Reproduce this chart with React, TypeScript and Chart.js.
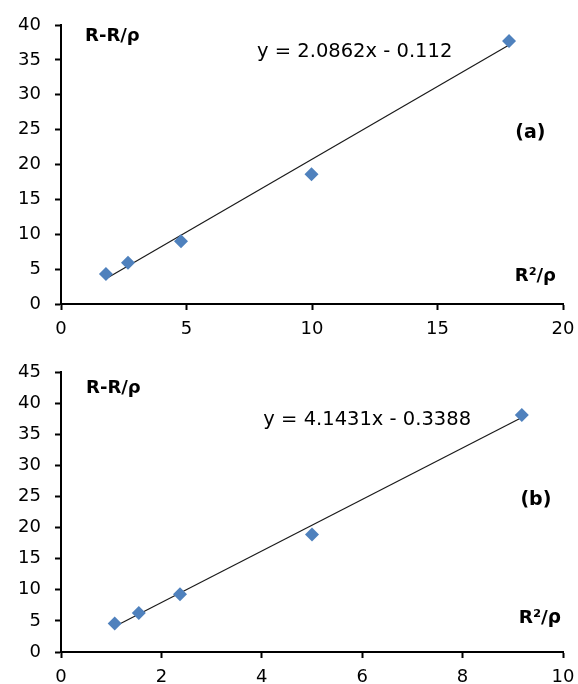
import React, { useEffect, useRef } from "react";
import { Chart, registerables } from "chart.js";

Chart.register(...registerables);

// Panel (a)
const xA = [1.79, 2.67, 4.78, 9.98, 17.85];
const yA = [4.3, 5.9, 9.0, 18.6, 37.7];
const trendXA = [1.79, 17.85];
const trendYA = [3.62, 37.13];
const xTicksA = { min: 0, max: 20, step: 5 };
const yTicksA = { min: 0, max: 40, step: 5 };

// Panel (b)
const xB = [1.07, 1.55, 2.37, 5.0, 9.18];
const yB = [4.57, 6.28, 9.29, 18.9, 38.07];
const trendXB = [1.07, 9.18];
const trendYB = [4.09, 37.7];
const xTicksB = { min: 0, max: 10, step: 2 };
const yTicksB = { min: 0, max: 45, step: 5 };

const FONT = "'DejaVu Sans', 'Liberation Sans', Arial, sans-serif";

const notesA = [
  { text: "R-R/ρ", x: 0.96, y: 38.4, align: "left", bold: true, size: 18 },
  { text: "y = 2.0862x - 0.112", x: 11.7, y: 36.1, align: "center", bold: false, size: 19.5 },
  { text: "(a)", x: 18.7, y: 24.5, align: "center", bold: true, size: 19 },
  { text: "R²/ρ", x: 18.9, y: 3.9, align: "center", bold: true, size: 18 },
];
const notesB = [
  { text: "R-R/ρ", x: 0.5, y: 42.3, align: "left", bold: true, size: 18 },
  { text: "y = 4.1431x - 0.3388", x: 6.1, y: 37.3, align: "center", bold: false, size: 19.5 },
  { text: "(b)", x: 9.46, y: 24.4, align: "center", bold: true, size: 19 },
  { text: "R²/ρ", x: 9.54, y: 5.4, align: "center", bold: true, size: 18.5 },
];

const notesPlugin = {
  id: "notes",
  afterDatasetsDraw(chart: any, _args: any, opts: any) {
    const { ctx, scales } = chart;
    const xs = scales.x;
    const ys = scales.y;
    (opts.items || []).forEach((it: any) => {
      ctx.save();
      ctx.font = `${it.bold ? "bold " : ""}${it.size}px ${FONT}`;
      ctx.fillStyle = "#000";
      ctx.textAlign = it.align;
      ctx.textBaseline = "middle";
      ctx.fillText(it.text, xs.getPixelForValue(it.x), ys.getPixelForValue(it.y));
      ctx.restore();
    });
  },
};

type PanelProps = {
  xs: number[];
  ys: number[];
  tx: number[];
  ty: number[];
  xt: { min: number; max: number; step: number };
  yt: { min: number; max: number; step: number };
  notes: any[];
  padTop: number;
  xAxisH: number;
};

function Panel(p: PanelProps) {
  const ref = useRef<HTMLCanvasElement>(null);
  useEffect(() => {
    const axisCommon = {
      grid: {
        display: true,
        drawOnChartArea: false,
        drawTicks: true,
        tickLength: 6,
        tickColor: "#000",
        tickWidth: 2,
        color: "#000",
      },
      border: { display: true, color: "#000", width: 2 },
    };
    const chart = new Chart(ref.current!, {
      type: "scatter",
      data: {
        datasets: [
          {
            data: p.xs.map((x, i) => ({ x, y: p.ys[i] })),
            pointStyle: "rectRot",
            pointRadius: 7,
            backgroundColor: "#4F81BD",
            borderColor: "#4F81BD",
            borderWidth: 0,
            showLine: false,
          },
          {
            data: p.tx.map((x, i) => ({ x, y: p.ty[i] })),
            showLine: true,
            pointRadius: 0,
            borderColor: "#1a1a1a",
            borderWidth: 1.2,
            fill: false,
          },
        ],
      },
      options: {
        responsive: false,
        animation: false,
        devicePixelRatio: 1,
        layout: { padding: { top: p.padTop, right: 15, left: 0, bottom: 0 } },
        plugins: {
          legend: { display: false },
          tooltip: { enabled: false },
          notes: { items: p.notes },
        } as any,
        scales: {
          x: {
            type: "linear",
            min: p.xt.min,
            max: p.xt.max,
            ...axisCommon,
            ticks: {
              stepSize: p.xt.step,
              color: "#000",
              padding: 9,
              font: { family: FONT, size: 18 },
              maxRotation: 0,
            },
            afterFit: (s: any) => {
              s.height = p.xAxisH;
              s.paddingRight = 0;
              s.paddingLeft = 0;
            },
          },
          y: {
            type: "linear",
            min: p.yt.min,
            max: p.yt.max,
            ...axisCommon,
            ticks: {
              stepSize: p.yt.step,
              color: "#000",
              padding: 14,
              font: { family: FONT, size: 18 },
            },
            afterFit: (s: any) => {
              s.width = 61;
              s.paddingTop = 0;
              s.paddingBottom = 0;
            },
          },
        },
      } as any,
      plugins: [notesPlugin],
    });
    return () => chart.destroy();
  }, []);
  return <canvas ref={ref} width={578} height={342} style={{ display: "block" }} />;
}

export default function App() {
  return (
    <div style={{ position: "absolute", left: 0, top: 0, width: 578, height: 684, background: "#fff", overflow: "hidden" }}>
      <Panel xs={xA} ys={yA} tx={trendXA} ty={trendYA} xt={xTicksA} yt={yTicksA} notes={notesA} padTop={25} xAxisH={38} />
      <Panel xs={xB} ys={yB} tx={trendXB} ty={trendYB} xt={xTicksB} yt={yTicksB} notes={notesB} padTop={30} xAxisH={32} />
    </div>
  );
}
